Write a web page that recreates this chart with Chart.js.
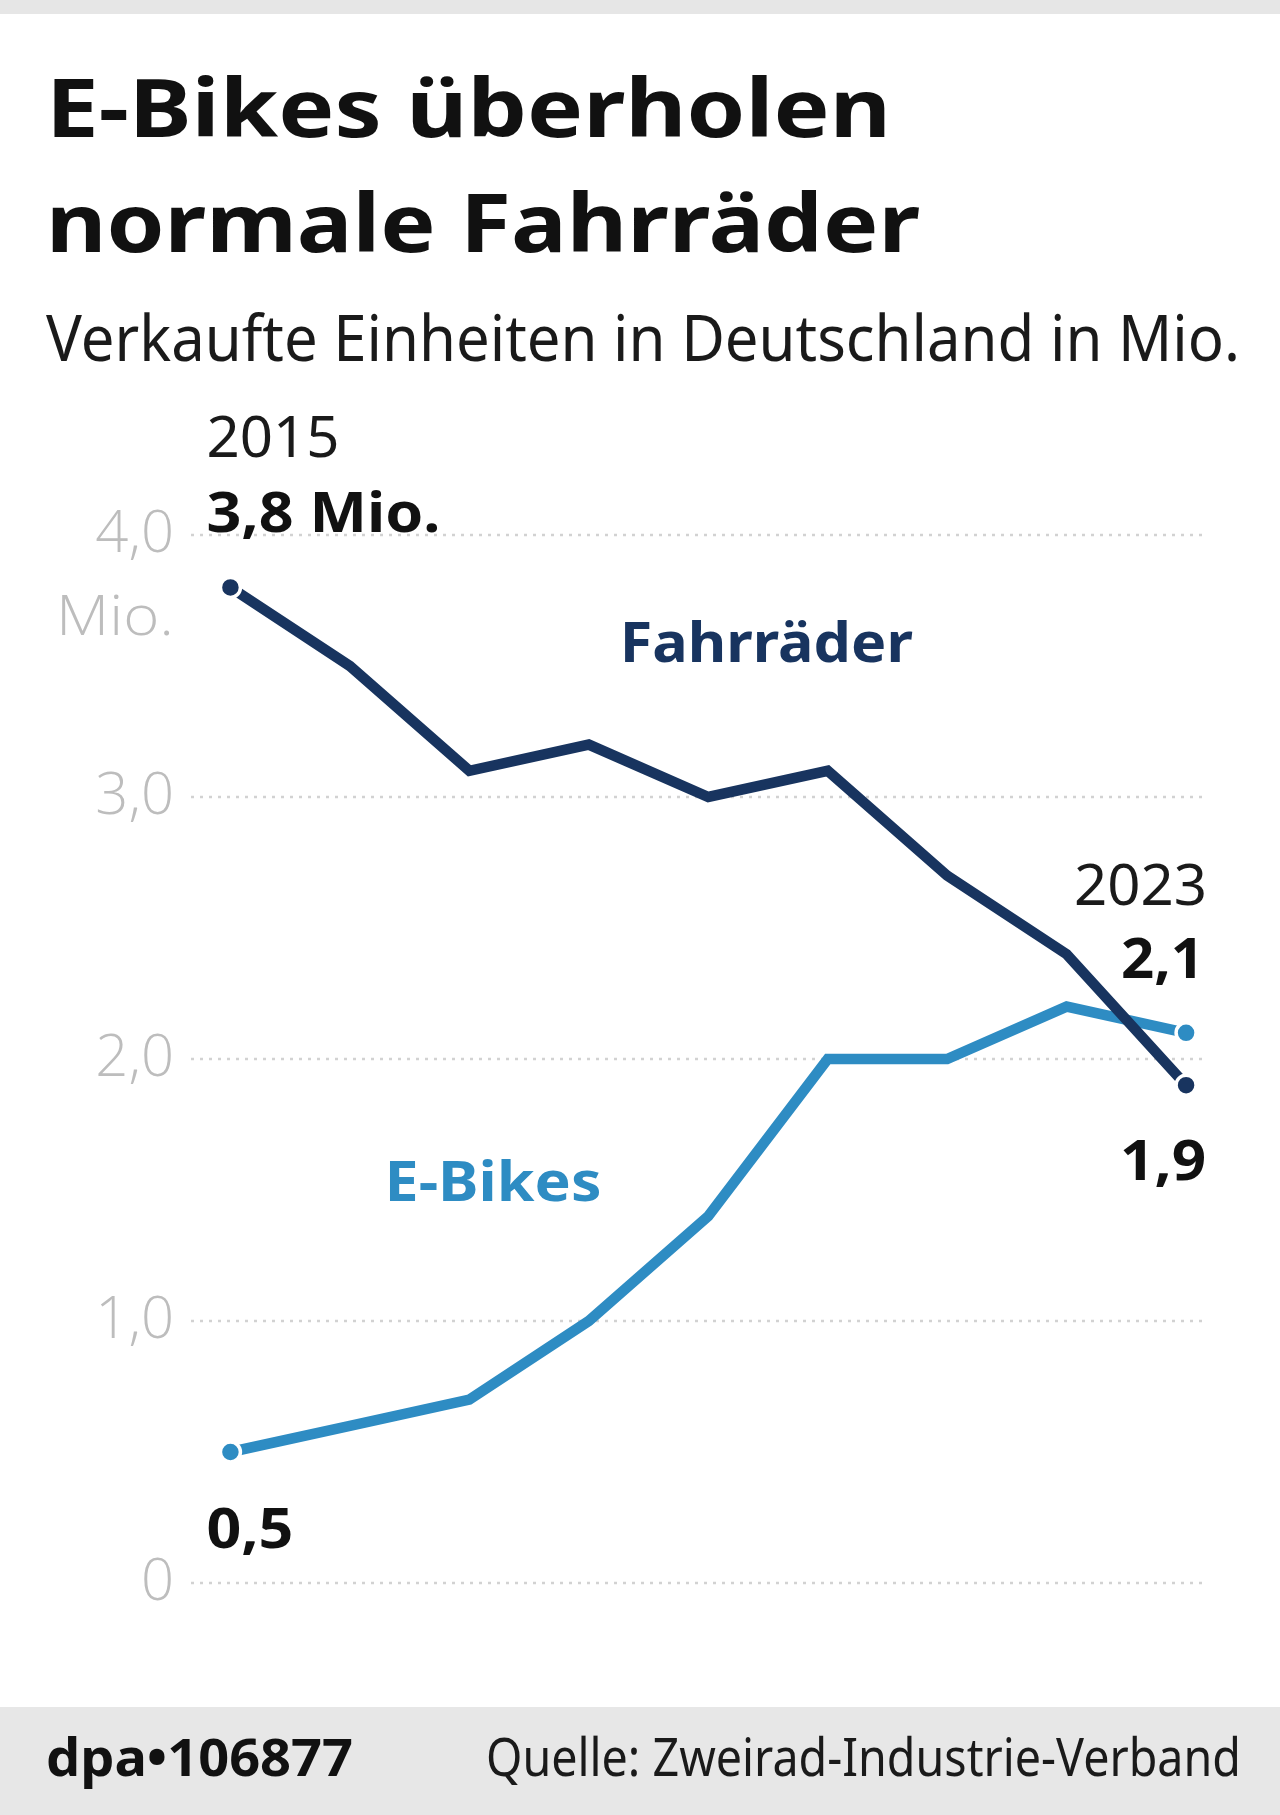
<!DOCTYPE html>
<html>
<head>
<meta charset="utf-8">
<script src="https://cdn.jsdelivr.net/npm/chart.js@4"></script>
<style>
  html, body { margin:0; padding:0; background:#fff; }
  body { width:1280px; height:1815px; position:relative; overflow:hidden; font-family:"Noto Sans", sans-serif; }
  #topbar { position:absolute; left:0; top:0; width:1280px; height:14px; background:#e6e6e6; }
  #footer { position:absolute; left:0; top:1707px; width:1280px; height:108px; background:#e7e7e7; }
  .t { position:absolute; white-space:nowrap; line-height:1; transform-origin:0 0; color:#111; display:inline-block; }
  #chartwrap { position:absolute; left:0; top:0; width:1280px; height:1707px; }
</style>
</head>
<body>
<div id="topbar"></div>
<div id="chartwrap"><canvas id="c" width="1280" height="1707"></canvas></div>
<div class="t" id="title1" data-w="845" data-base="137" style="left:46px;font-weight:700;font-size:81px;">E-Bikes überholen</div>
<div class="t" id="title2" data-w="874" data-base="252" style="left:46px;font-weight:700;font-size:81px;">normale Fahrräder</div>
<div class="t" id="sub" data-w="1194" data-base="361" style="left:46px;font-weight:400;font-size:63px;color:#1a1a1a;">Verkaufte Einheiten in Deutschland in Mio.</div>
<div id="footer"></div>
<div class="t" id="dpa" data-w="307" data-base="1776" style="left:46px;font-weight:700;font-size:52px;">dpa•106877</div>
<div class="t" id="src" data-w="755" data-base="1776" style="left:486px;font-weight:400;font-size:52px;color:#1a1a1a;">Quelle: Zweirad-Industrie-Verband</div>
<script>
// ---------- data ----------
const years = ['2015','2016','2017','2018','2019','2020','2021','2022','2023'];
const fahrraeder = [3.8, 3.5, 3.1, 3.2, 3.0, 3.1, 2.7, 2.4, 1.9];
const eBikes     = [0.5, 0.6, 0.7, 1.0, 1.4, 2.0, 2.0, 2.2, 2.1];
const yTickValues = [0, 1, 2, 3, 4];
const yTickLabels = ['0', '1,0', '2,0', '3,0', '4,0'];
const seriesNames = ['Fahrräder', 'E-Bikes'];
const yUnit = 'Mio.';

// ---------- helpers ----------
function fitHtml() {
  document.querySelectorAll('.t').forEach(el => {
    const fs = parseFloat(el.style.fontSize);
    const base = parseFloat(el.dataset.base);
    el.style.top = (base - 0.888 * fs) + 'px';
    el.style.transform = 'none';
    const w = el.getBoundingClientRect().width;
    const target = parseFloat(el.dataset.w);
    el.style.transform = 'scaleX(' + (target / w) + ')';
  });
}
fitHtml();

const fmt = v => v.toFixed(1).replace('.', ',');
const NAVY = '#18345f';
const LIGHT = '#2e8cc3';
const TICK = '#bdbdbd';

function drawText(ctx, text, x, y, font, color, align, targetW) {
  ctx.save();
  ctx.font = font;
  ctx.fillStyle = color;
  ctx.textBaseline = 'alphabetic';
  ctx.textAlign = 'left';
  const w = ctx.measureText(text).width;
  const sx = targetW ? targetW / w : 1;
  const realW = w * sx;
  let left = x;
  if (align === 'right') left = x - realW;
  ctx.translate(left, y);
  ctx.scale(sx, 1);
  ctx.fillText(text, 0, 0);
  ctx.restore();
}

// dotted horizontal grid lines drawn at the y scale's own tick positions
const dottedGrid = {
  id: 'dottedGrid',
  beforeDatasetsDraw(chart) {
    const ctx = chart.ctx, ys = chart.scales.y, a = chart.chartArea;
    ctx.save();
    ctx.strokeStyle = '#d2d2d2';
    ctx.lineWidth = 2.5;
    ctx.setLineDash([3, 6]);
    ys.ticks.forEach(t => {
      const y = Math.round(ys.getPixelForValue(t.value));
      ctx.beginPath();
      ctx.moveTo(a.left, y);
      ctx.lineTo(a.right, y);
      ctx.stroke();
    });
    ctx.restore();
  }
};

const annotations = {
  id: 'annotations',
  afterDatasetsDraw(chart) {
    const ctx = chart.ctx;
    const xs = chart.scales.x, ys = chart.scales.y;
    const last = years.length - 1;
    const fx0 = xs.getPixelForValue(0), fy0 = ys.getPixelForValue(fahrraeder[0]);
    const ex0 = xs.getPixelForValue(0), ey0 = ys.getPixelForValue(eBikes[0]);
    const fxN = xs.getPixelForValue(last), fyN = ys.getPixelForValue(fahrraeder[last]);
    const exN = xs.getPixelForValue(last), eyN = ys.getPixelForValue(eBikes[last]);
    const B = 'bold 56px "Noto Sans"', R = '400 56px "Noto Sans"';
    drawText(ctx, years[0], fx0 - 24, fy0 - 130, R, '#1a1a1a', 'left', 133);
    drawText(ctx, fmt(fahrraeder[0]) + ' ' + yUnit, fx0 - 24, fy0 - 55, B, '#111', 'left', 234);
    drawText(ctx, fmt(eBikes[0]), ex0 - 24, ey0 + 96, B, '#111', 'left', 87);
    drawText(ctx, years[last], exN + 21, eyN - 128, R, '#1a1a1a', 'right', 133);
    drawText(ctx, fmt(eBikes[last]), exN + 18, eyN - 55, B, '#111', 'right', 83);
    drawText(ctx, fmt(fahrraeder[last]), fxN + 20, fyN + 95, B, '#111', 'right', 86);
    drawText(ctx, seriesNames[0], xs.getPixelForValue(3.26), ys.getPixelForValue(3.515), B, NAVY, 'left', 293);
    drawText(ctx, seriesNames[1], xs.getPixelForValue(1.29), ys.getPixelForValue(1.458), B, LIGHT, 'left', 217);
    drawText(ctx, yUnit, chart.chartArea.left - 17, ys.getPixelForValue(4) + 100, '300 56px "Open Sans"', TICK, 'right', 118);
  }
};

const endOnly = (n) => (c) => (c.dataIndex === 0 || c.dataIndex === n - 1) ? 10 : 0;

new Chart(document.getElementById('c'), {
  type: 'line',
  data: {
    datasets: [
      {
        label: seriesNames[0],
        data: fahrraeder.map((v, i) => ({ x: i, y: v })),
        borderColor: NAVY, backgroundColor: NAVY,
        borderWidth: 10.5, borderJoinStyle: 'miter', borderCapStyle: 'butt',
        pointRadius: endOnly(years.length), pointBackgroundColor: NAVY,
        pointBorderColor: '#fff', pointBorderWidth: 3.5, tension: 0
      },
      {
        label: seriesNames[1],
        data: eBikes.map((v, i) => ({ x: i, y: v })),
        borderColor: LIGHT, backgroundColor: LIGHT,
        borderWidth: 10.5, borderJoinStyle: 'miter', borderCapStyle: 'butt',
        pointRadius: endOnly(years.length), pointBackgroundColor: LIGHT,
        pointBorderColor: '#fff', pointBorderWidth: 3.5, tension: 0
      }
    ]
  },
  options: {
    responsive: false,
    animation: false,
    devicePixelRatio: 1,
    layout: { padding: { top: 535, bottom: 124, left: 0, right: 76 } },
    plugins: { legend: { display: false }, tooltip: { enabled: false } },
    scales: {
      x: { type: 'linear', min: -0.33, max: 8.15, display: false },
      y: {
        min: 0, max: 4,
        afterBuildTicks: (s) => { s.ticks = yTickValues.map(v => ({ value: v })); },
        afterFit: (s) => { s.width = 191; },
        border: { display: false },
        grid: { display: true, drawOnChartArea: false, drawTicks: false },
        ticks: {
          padding: 17,
          color: TICK,
          font: { family: 'Open Sans', size: 58, weight: 300 },
          callback: (v) => yTickLabels[yTickValues.indexOf(v)]
        }
      }
    }
  },
  plugins: [dottedGrid, annotations]
});
</script>
</body>
</html>
